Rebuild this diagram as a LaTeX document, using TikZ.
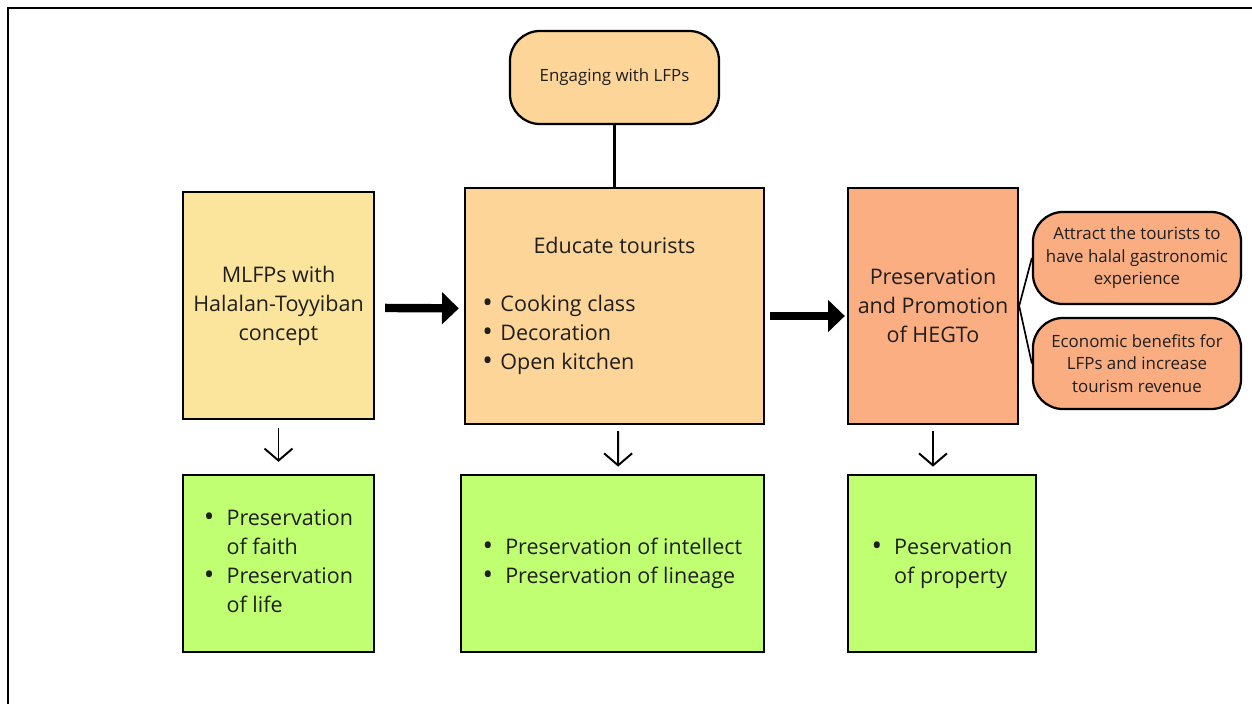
\documentclass[tikz,border=0pt]{standalone}
\usepackage{fontspec}
\setmainfont{Open Sans}
\usepackage{xcolor}
\usepackage{tikz}
\usetikzlibrary{arrows.meta}

\definecolor{paleyellow}{HTML}{FBE49B}
\definecolor{paleorange}{HTML}{FDD598}
\definecolor{salmon}{HTML}{FCAE83}
\definecolor{lightsalmon}{HTML}{F9AD81}
\definecolor{limegreen}{HTML}{C1FF72}

\newcommand{\bigtext}{\fontsize{15.3}{20.6}\selectfont}
\newcommand{\smalltext}{\fontsize{12}{16}\selectfont}
\newcommand{\dotbullet}{\raisebox{-0.6pt}{\fontsize{20}{20}\selectfont\textbullet}}
\newcommand{\bitem}[1]{\makebox[6.6cm][l]{\makebox[0.45cm][l]{\dotbullet}#1}}

\begin{document}
\begin{tikzpicture}[
  x=0.025cm, y=-0.025cm,
  box/.style={draw, rectangle, line width=1.6pt, text=black!88,
    align=center, font=\bigtext},
  pill/.style={draw, rectangle, rounded corners=0.75cm, line width=1.6pt,
    text=black!88, align=center, font=\smalltext},
  goal/.style={box, fill=limegreen, minimum height=4.425cm},
  bigarrow/.style={line width=6pt, -{Triangle[length=0.42cm,width=0.78cm]}},
  downarrow/.style={line width=1.4pt, -{Straight Barb[length=0.3cm,width=0.7cm]}}
]
\useasboundingbox (0,0) rectangle (1252,704);

% Frame
\draw[line width=2pt] (8,704) -- (8,8) -- (1252,8);

% Nodes
\node[pill, fill=paleorange, minimum width=5.225cm, minimum height=2.325cm]
  (engage) at (614.5,77.5) {Engaging with LFPs};

\node[box, fill=paleyellow, minimum width=4.775cm, minimum height=5.675cm]
  (mlfp) at (278.5,305.5)
  {MLFPs with\\ Halalan-Toyyiban\\ concept};

\node[box, fill=paleorange, minimum width=7.475cm, minimum height=5.9cm]
  (educate) at (614.5,306)
  {Educate tourists\\[20.6pt]
   \bitem{Cooking class}\\ \bitem{Decoration}\\ \bitem{Open kitchen}};

\node[box, fill=salmon, minimum width=4.25cm, minimum height=5.9cm]
  (hegto) at (933,306)
  {Preservation\\ and Promotion\\ of HEGTo};

\node[pill, fill=lightsalmon, minimum width=5.2cm, minimum height=2.3cm]
  (attract) at (1137,258)
  {Attract the tourists to\\ have halal gastronomic\\ experience};

\node[pill, fill=lightsalmon, minimum width=5.2cm, minimum height=2.275cm]
  (economic) at (1137,363.5)
  {Economic benefits for\\ LFPs and increase\\ tourism revenue};

\node[goal, minimum width=4.775cm] (faith) at (278.5,563.5)
  {\begin{tabular}{@{}l@{\hspace{0.3cm}}l@{}}
   \dotbullet & Preservation\\ & of faith\\
   \dotbullet & Preservation\\ & of life
   \end{tabular}};

\node[goal, minimum width=7.575cm] (intellect) at (612.5,563.5)
  {\begin{tabular}{@{}l@{\hspace{0.3cm}}l@{}}
   \dotbullet & Preservation of intellect\\
   \dotbullet & Preservation of lineage
   \end{tabular}};

\node[goal, minimum width=4.7cm] (property) at (942,563.5)
  {\begin{tabular}{@{}l@{\hspace{0.3cm}}l@{}}
   \dotbullet & Peservation\\ & of property
   \end{tabular}};

% Arrows between boxes
\draw[line width=1.5pt] (engage) -- (educate);

\draw[bigarrow, shorten <=0.25cm, shorten >=0.125cm]
  ([yshift=-0.06cm]mlfp.east) -- ([yshift=-0.06cm]educate.west);

\draw[bigarrow, shorten <=0.125cm, shorten >=0.05cm]
  ([yshift=-0.25cm]educate.east) -- ([yshift=-0.25cm]hegto.west);

% Branches to the outcomes
\draw[line width=1.2pt] (hegto.east) -- (attract.west);
\draw[line width=1.2pt] (hegto.east) -- (economic.west);

% Down arrows
\draw[downarrow, shorten <=0.2cm, shorten >=0.3cm] (mlfp) -- (faith);
\draw[downarrow, shorten <=0.15cm, shorten >=0.18cm]
  ([xshift=0.09cm]educate.south) -- ([xshift=0.14cm]intellect.north);
\draw[downarrow, shorten <=0.15cm, shorten >=0.18cm]
  (hegto.south) -- (hegto.south |- property.north);

\end{tikzpicture}
\end{document}
